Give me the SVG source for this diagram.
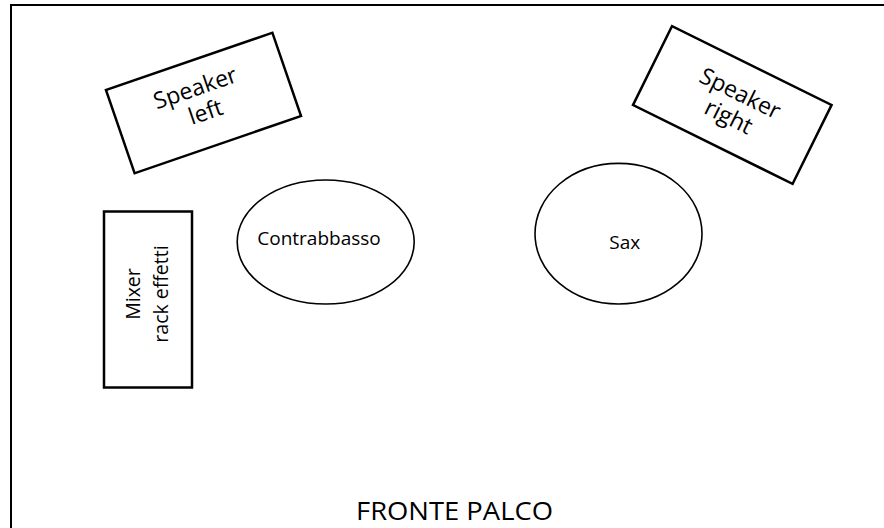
<svg xmlns="http://www.w3.org/2000/svg" width="884" height="528" viewBox="0 0 884 528">
<style>
.box{fill:#fff;stroke:#000;stroke-width:2.5}
.ell{fill:#fff;stroke:#000;stroke-width:1.6}
.t{font-family:"Open Sans","Noto Sans",sans-serif;fill:#000;text-anchor:middle}
</style>
<rect width="884" height="528" fill="#fff"/>
<path d="M11,528 V5 H884" fill="none" stroke="#000" stroke-width="2"/>
<g id="speaker-left" transform="translate(203.5,103) rotate(-19)">
<rect class="box" x="-88" y="-44" width="176" height="88"/>
<text class="t" x="-3" y="-9" font-size="23">Speaker</text>
<text class="t" x="-1" y="17" font-size="23">left</text>
</g>
<g id="speaker-right" transform="translate(732.3,105) rotate(26.3)">
<rect class="box" x="-89" y="-44" width="178" height="88"/>
<text class="t" x="2" y="-6" font-size="23">Speaker</text>
<text class="t" x="2" y="20" font-size="23">right</text>
</g>
<g id="mixer">
<rect class="box" x="104" y="211.5" width="88" height="176"/>
<g transform="translate(0,294) rotate(-90)">
<text class="t" x="0" y="140" font-size="19.5">Mixer</text>
<text class="t" x="0" y="168" font-size="19.5">rack effetti</text>
</g>
</g>
<g id="contrabbasso">
<ellipse class="ell" cx="325.7" cy="242" rx="88.5" ry="62"/>
<text class="t" x="319" y="245" font-size="19">Contrabbasso</text>
</g>
<g id="sax">
<ellipse class="ell" cx="618.5" cy="233.7" rx="83.5" ry="70.3"/>
<text class="t" x="624.7" y="248.5" font-size="19">Sax</text>
</g>
<g id="connectors"/>
<text id="fronte-palco" class="t" x="454.5" y="520" font-size="26" textLength="197" lengthAdjust="spacingAndGlyphs">FRONTE PALCO</text>
</svg>
